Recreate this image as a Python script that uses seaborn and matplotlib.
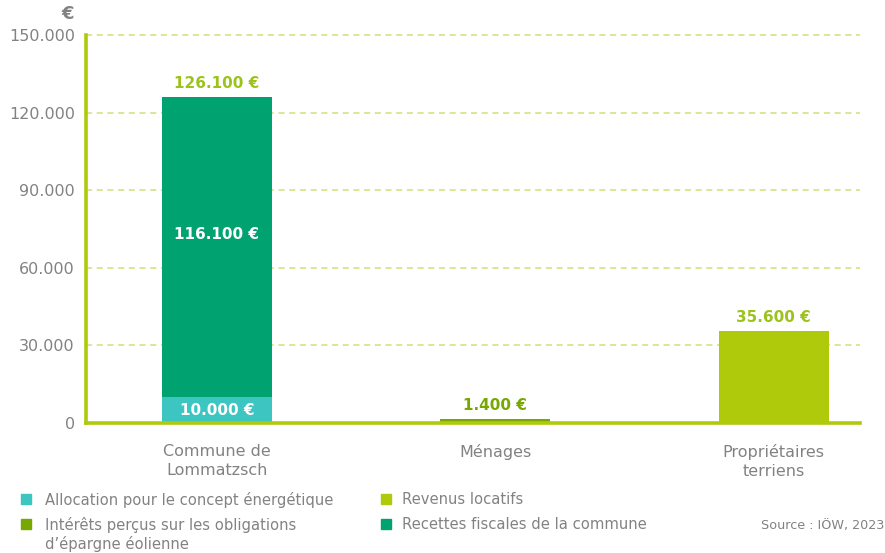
import matplotlib
matplotlib.use("Agg")
import matplotlib.pyplot as plt
from matplotlib.patches import Rectangle
import seaborn as sns
import pandas as pd

categories = ["Commune de\nLommatzsch", "Ménages", "Propriétaires\nterriens"]
series_top = ["Recettes fiscales de la commune",
              "Intérêts perçus sur les obligations\nd’épargne éolienne",
              "Revenus locatifs"]
totals = [126100, 1400, 35600]
base_series = "Allocation pour le concept énergétique"
base_values = [10000]
inner_top_label = "116.100 €"
total_labels = ["126.100 €", "1.400 €", "35.600 €"]
base_labels = ["10.000 €"]
yticks = [0, 30000, 60000, 90000, 120000, 150000]
ytick_labels = ["0", "30.000", "60.000", "90.000", "120.000", "150.000"]

colors = {
    base_series: "#3dc6c1",
    series_top[0]: "#00a36f",
    series_top[1]: "#77a800",
    series_top[2]: "#afca0b",
}
label_colors = ["#9cc31c", "#77a800", "#9cc31c"]
axis_color = "#afca0b"
grid_color = "#cfe07a"
gray = "#828282"

sns.set_theme(style="white")
plt.rcParams["font.family"] = ["DejaVu Sans"]

fig = plt.figure(figsize=(8.85, 5.53), dpi=100)
ax = fig.add_axes([86/885, 1-423/553, (860-86)/885, (423-35)/553])

df_top = pd.DataFrame({"cat": categories, "val": totals, "series": series_top})
df_base = pd.DataFrame({"cat": categories[:1], "val": base_values, "series": [base_series]})

sns.barplot(data=df_top, x="cat", y="val", hue="series", order=categories,
            palette=colors, dodge=False, width=0.395, ax=ax, legend=False,
            linewidth=0, saturation=1)
sns.barplot(data=df_base, x="cat", y="val", hue="series", order=categories,
            palette=colors, dodge=False, width=0.395, ax=ax, legend=False,
            linewidth=0, saturation=1)

ax.set_xlim(-0.47, 2.31)
ax.set_ylim(0, 150000)
ax.set_yticks(yticks)
ax.set_yticklabels(ytick_labels)
ax.set_xlabel("")
ax.set_ylabel("")
for y in yticks[1:]:
    ax.axhline(y, color=grid_color, lw=1.1, ls=(0, (4, 3)), zorder=0, clip_on=False)

for s in ["top", "right"]:
    ax.spines[s].set_visible(False)
for s in ["left", "bottom"]:
    ax.spines[s].set_color(axis_color)
    ax.spines[s].set_linewidth(2.6)
    ax.spines[s].set_zorder(3)

ax.tick_params(axis="y", length=0, pad=8, labelsize=11.5, labelcolor=gray)
ax.tick_params(axis="x", length=0, pad=15, labelsize=11.5, labelcolor=gray)
for t in ax.get_xticklabels():
    t.set_linespacing(1.35)

for i, (v, lab) in enumerate(zip(totals, total_labels)):
    ax.text(i, v + 2400, lab, ha="center", va="bottom", color=label_colors[i],
            fontsize=11, fontweight="bold")
ax.text(0, (base_values[0] + totals[0]) / 2 + 5000, inner_top_label, ha="center",
        va="center", color="white", fontsize=11, fontweight="bold")
ax.text(0, base_values[0] / 2, base_labels[0], ha="center", va="center",
        color="white", fontsize=11, fontweight="bold")

fig.text(68/885, 1-14/553, "€", ha="center", va="center", color=gray,
         fontsize=13, fontweight="bold")

# legend
leg_items = [
    (21, 499, 45, base_series),
    (21, 524, 45, series_top[1]),
    (381, 499, 402, series_top[2]),
    (381, 524, 402, series_top[0]),
]
for x, y, tx, name in leg_items:
    fig.add_artist(Rectangle((x/885, 1-(y+5)/553), 10/885, 10/553,
                             transform=fig.transFigure, color=colors[name]))
    fig.text(tx/885, 1-(y-7)/553, name, ha="left", va="top", color=gray,
             fontsize=10.6, linespacing=1.22)

fig.text(884/885, 1-526/553, "Source : IÖW, 2023", ha="right", va="center",
         color=gray, fontsize=9.2)

fig.savefig("out.png", dpi=100)
